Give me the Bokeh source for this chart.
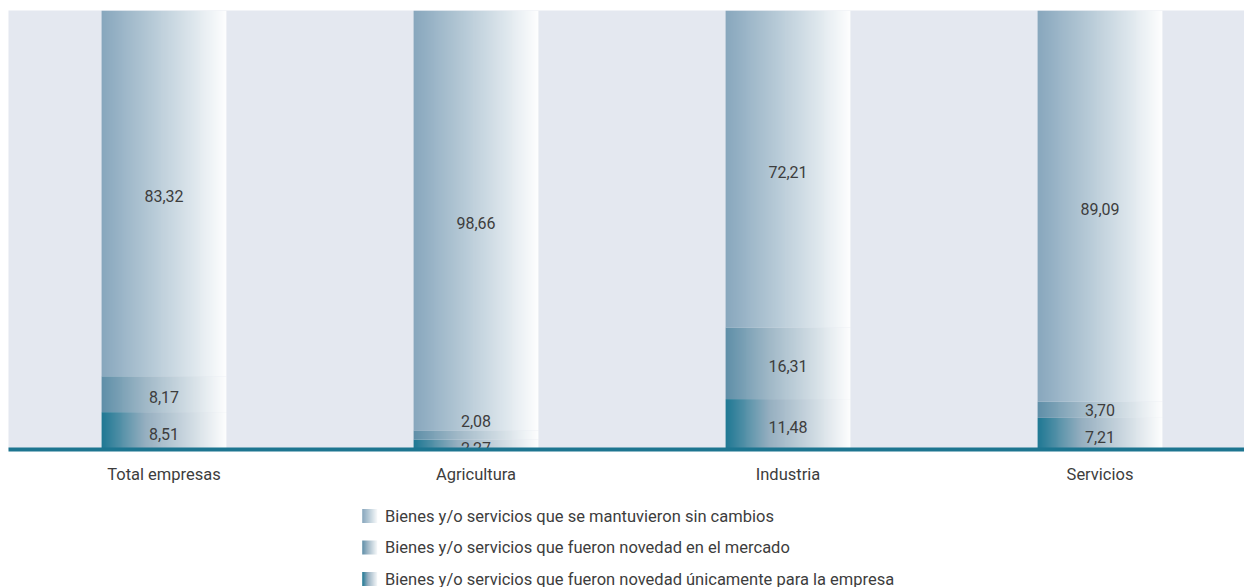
import numpy as np
from bokeh.plotting import figure
from bokeh.models import Range1d, FixedTicker, ColumnDataSource
from bokeh.layouts import column
from bokeh.core.properties import value
from bokeh.embed import file_html
from bokeh.resources import INLINE

# ---- data ----
categories = ["Total empresas", "Agricultura", "Industria", "Servicios"]
solo_empresa = [8.51, 2.27, 11.48, 7.21]      # bottom
novedad_mercado = [8.17, 2.08, 16.31, 3.70]   # middle
sin_cambios = [83.32, 98.66, 72.21, 89.09]    # top
series_names = [
    "Bienes y/o servicios que se mantuvieron sin cambios",
    "Bienes y/o servicios que fueron novedad en el mercado",
    "Bienes y/o servicios que fueron novedad únicamente para la empresa",
]

# ---- styles ----
FONT = "Roboto"
TXT = "#3d3d3d"
BG = "#e4e8f0"
AXIS = "#1d7590"
stops = [
    [(0.0, (31, 120, 147)), (0.35, (150, 175, 192)), (1.0, (255, 255, 255))],
    [(0.0, (95, 143, 168)), (0.35, (160, 184, 199)), (1.0, (255, 255, 255))],
    [(0.0, (136, 167, 189)), (0.35, (176, 197, 211)), (1.0, (255, 255, 255))],
]
BAR_W = 0.40


def grad_image(st, n=128):
    img = np.zeros((1, n), dtype=np.uint32)
    view = img.view(dtype=np.uint8).reshape((1, n, 4))
    ts = (np.arange(n) + 0.5) / n
    for k, t in enumerate(ts):
        for (t0, c0), (t1, c1) in zip(st[:-1], st[1:]):
            if t <= t1:
                f = (t - t0) / (t1 - t0)
                c = [round(a + (b - a) * f) for a, b in zip(c0, c1)]
                break
        view[0, k, :3] = c
        view[0, k, 3] = 255
    return img


grads = [grad_image(s) for s in stops]

p = figure(width=1244, height=495, output_backend="svg",
           toolbar_location=None, x_range=Range1d(-0.4984, 3.4631),
           y_range=Range1d(0, 100), min_border_left=8, min_border_right=0,
           min_border_top=10, min_border_bottom=46)
p.background_fill_color = BG
p.border_fill_color = "white"
p.outline_line_color = None
p.grid.visible = False
p.yaxis.visible = False

series = [solo_empresa, novedad_mercado, sin_cambios]
img = dict(image=[], x=[], y=[], dw=[], dh=[])
lab = dict(x=[], y=[], text=[])
for i, cat in enumerate(categories):
    base = 0.0
    prev_label = -100.0
    for j, vals in enumerate(series):
        v = vals[i]
        top = base + v
        vis_top = min(top, 100.0)
        img["image"].append(grads[j])
        img["x"].append(i - BAR_W / 2)
        img["y"].append(base)
        img["dw"].append(BAR_W)
        img["dh"].append(vis_top - base)
        mid = (base + vis_top) / 2
        ly = max(mid, prev_label + 6.0)
        prev_label = ly
        lab["x"].append(i)
        lab["y"].append(ly)
        lab["text"].append(f"{v:.2f}".replace(".", ","))
        base = top

p.image_rgba(image="image", x="x", y="y", dw="dw", dh="dh",
             source=ColumnDataSource(img))
p.text(x="x", y="y", text="text", source=ColumnDataSource(lab),
       text_font=value(FONT), text_font_size="16px", text_color=TXT,
       text_align="center", text_baseline="middle", y_offset=3)

p.xaxis.ticker = FixedTicker(ticks=list(range(len(categories))))
p.xaxis.major_label_overrides = {i: c for i, c in enumerate(categories)}
p.xaxis.axis_line_color = AXIS
p.xaxis.axis_line_width = 4
p.xaxis.major_tick_line_color = None
p.xaxis.minor_tick_line_color = None
p.xaxis.major_tick_out = 0
p.xaxis.major_label_standoff = 15
p.xaxis.major_label_text_font = FONT
p.xaxis.major_label_text_font_size = "16.5px"
p.xaxis.major_label_text_color = TXT

# ---- legend (separate strip below) ----
lg = figure(width=1244, height=92, output_backend="svg", toolbar_location=None,
            x_range=Range1d(0, 1244), y_range=Range1d(92, 0), min_border=0)
lg.axis.visible = False
lg.grid.visible = False
lg.outline_line_color = None
lg.background_fill_color = "white"
lg.border_fill_color = "white"

leg_order = [2, 1, 0]
limg = dict(image=[], x=[], y=[], dw=[], dh=[])
ltxt = dict(x=[], y=[], text=[])
for r, j in enumerate(leg_order):
    yc = 20.5 + r * 31.5
    limg["image"].append(grads[j])
    limg["x"].append(356)
    limg["y"].append(yc - 7)
    limg["dw"].append(15)
    limg["dh"].append(14)
    ltxt["x"].append(379)
    ltxt["y"].append(yc)
    ltxt["text"].append(series_names[r])
lg.image_rgba(image="image", x="x", y="y", dw="dw", dh="dh",
              source=ColumnDataSource(limg))
lg.text(x="x", y="y", text="text", source=ColumnDataSource(ltxt),
        text_font=value(FONT), text_font_size="16.5px", text_color=TXT,
        text_align="left", text_baseline="middle")

layout = column(p, lg, spacing=0)
open("out.html", "w").write(file_html(layout, INLINE))
